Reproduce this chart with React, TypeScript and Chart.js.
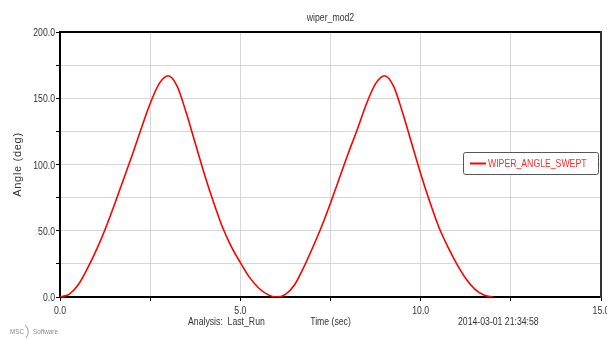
import React, { useEffect, useRef } from "react";
import { Chart, registerables } from "chart.js";

Chart.register(...registerables);

const TITLE = "wiper_mod2";
const SERIES_NAME = "WIPER_ANGLE_SWEPT";
const X_TITLE = "Time (sec)";
const Y_TITLE = "Angle (deg)";
const ANALYSIS = "Analysis:  Last_Run";
const STAMP = "2014-03-01 21:34:58";

const timeSec = [
  0, 0.25, 0.5, 0.75, 1, 1.25, 1.5, 1.75, 2, 2.25, 2.5, 2.75, 3,
  3.25, 3.5, 3.75, 4, 4.25, 4.5, 4.75, 5, 5.25, 5.5, 5.75, 6,
  6.25, 6.5, 6.75, 7, 7.25, 7.5, 7.75, 8, 8.25, 8.5, 8.75, 9,
  9.25, 9.5, 9.75, 10, 10.25, 10.5, 10.75, 11, 11.25, 11.5, 11.75, 12,
];
const angleDeg = [
  0, 2, 9, 21, 35, 51, 69, 88, 107, 127, 146, 161, 167,
  159, 139, 116, 93, 72, 53, 38, 26, 15, 7, 2, 0,
  2, 9, 22, 37, 53, 71, 90, 109, 127, 146, 161, 167,
  159, 139, 116, 93, 72, 53, 38, 25, 14, 6, 1.5, 0,
];

const X_MIN = 0;
const X_MAX = 15;
const X_STEP = 2.5;
const X_LABEL_EVERY = 5;
const Y_MIN = 0;
const Y_MAX = 200;
const Y_STEP = 25;
const Y_LABEL_EVERY = 50;

const NARROW = "'Liberation Sans', Arial, sans-serif";
const REGULAR = "'Liberation Sans', Arial, sans-serif";
const SX = 0.79;

function narrowText(ctx: any, text: string, x: number, y: number, align: string, color: string, size = 11) {
  ctx.save();
  ctx.translate(x, y);
  ctx.scale(SX, 1);
  ctx.font = `${size}px ${NARROW}`;
  ctx.fillStyle = color;
  ctx.textAlign = align;
  ctx.textBaseline = "middle";
  ctx.fillText(text, 0, 0);
  ctx.restore();
}

const isMultiple = (v: number, m: number) => Math.abs(v / m - Math.round(v / m)) < 1e-9;

const decorPlugin = {
  id: "decor",
  afterDraw(chart: any) {
    const { ctx, chartArea } = chart;
    const { left, right, top, bottom } = chartArea;
    const xs = chart.scales.x;
    const ys = chart.scales.y;
    ctx.save();
    // top and right frame
    ctx.strokeStyle = "#000";
    ctx.lineWidth = 2;
    ctx.beginPath();
    ctx.moveTo(left - 1, top);
    ctx.lineTo(right, top);
    ctx.stroke();
    ctx.strokeStyle = "#333";
    ctx.beginPath();
    ctx.moveTo(right, top - 1);
    ctx.lineTo(right, bottom + 1);
    ctx.stroke();
    ctx.restore();

    // tick labels
    xs.ticks.forEach((t: any) => {
      if (isMultiple(t.value, X_LABEL_EVERY)) {
        narrowText(ctx, t.value.toFixed(1), xs.getPixelForValue(t.value), 311, "center", "#333");
      }
    });
    ys.ticks.forEach((t: any) => {
      if (isMultiple(t.value, Y_LABEL_EVERY)) {
        narrowText(ctx, t.value.toFixed(1), 55, ys.getPixelForValue(t.value) + 1, "right", "#333");
      }
    });

    // titles
    narrowText(ctx, TITLE, (left + right) / 2, 18, "center", "#333");
    narrowText(ctx, X_TITLE, (left + right) / 2, 322, "center", "#333");
    narrowText(ctx, ANALYSIS, 188, 322, "left", "#333");
    narrowText(ctx, STAMP, 458, 322, "left", "#333");

    ctx.save();
    ctx.translate(18, (top + bottom) / 2);
    ctx.rotate(-Math.PI / 2);
    ctx.font = `11px ${REGULAR}`;
    try { (ctx as any).letterSpacing = "0.7px"; } catch (e) {}
    ctx.fillStyle = "#333";
    ctx.textAlign = "center";
    ctx.textBaseline = "middle";
    ctx.fillText(Y_TITLE, 0, 0);
    try { (ctx as any).letterSpacing = "0px"; } catch (e) {}
    ctx.restore();

    // MSC Software logo
    narrowText(ctx, "MSC", 10, 332, "left", "#8a8a8a", 8);
    narrowText(ctx, "Software", 33, 332, "left", "#8a8a8a", 8);
    ctx.save();
    ctx.strokeStyle = "#9a9a9a";
    ctx.lineWidth = 1;
    ctx.beginPath();
    ctx.moveTo(25, 325);
    ctx.quadraticCurveTo(31, 331, 26, 338);
    ctx.stroke();

    // legend box
    const bx = 463, by = 152, bw = 135, bh = 22;
    ctx.fillStyle = "#fff";
    ctx.strokeStyle = "#555";
    ctx.lineWidth = 1;
    ctx.beginPath();
    if ((ctx as any).roundRect) {
      (ctx as any).roundRect(bx + 0.5, by + 0.5, bw, bh, 2);
    } else {
      ctx.rect(bx + 0.5, by + 0.5, bw, bh);
    }
    ctx.fill();
    ctx.stroke();
    const ds = chart.data.datasets[0];
    ctx.strokeStyle = ds.borderColor;
    ctx.lineWidth = 2;
    ctx.beginPath();
    ctx.moveTo(470, by + 11.5);
    ctx.lineTo(486, by + 11.5);
    ctx.stroke();
    ctx.restore();
    narrowText(ctx, ds.label, 488, by + 12, "left", "#ff2a2a");
  },
};

export default function App() {
  const ref = useRef<HTMLCanvasElement | null>(null);
  useEffect(() => {
    if (!ref.current) return;
    const chart = new Chart(ref.current, {
      type: "line",
      data: {
        datasets: [
          {
            label: SERIES_NAME,
            data: timeSec.map((t, i) => ({ x: t, y: angleDeg[i] })),
            borderColor: "#ff0000",
            borderWidth: 1.6,
            pointRadius: 0,
            fill: false,
            cubicInterpolationMode: "monotone",
          },
        ],
      },
      options: {
        animation: false,
        responsive: false,
        devicePixelRatio: 1,
        layout: { padding: { left: 0, top: 32, right: 19, bottom: 0 } },
        plugins: {
          legend: { display: false },
          title: { display: false },
          tooltip: { enabled: false },
        },
        scales: {
          x: {
            type: "linear",
            min: X_MIN,
            max: X_MAX,
            afterFit(scale: any) {
              scale.height = 43;
              scale.paddingLeft = 0;
              scale.paddingRight = 0;
            },
            afterBuildTicks(scale: any) {
              const ticks = [];
              for (let v = X_MIN; v <= X_MAX + 1e-9; v += X_STEP) ticks.push({ value: v });
              scale.ticks = ticks;
            },
            ticks: { display: false, autoSkip: false },
            grid: { color: "#d6d6d6", lineWidth: 1, tickLength: 4, tickColor: "#000" },
            border: { display: true, color: "#000", width: 2 },
            title: { display: false },
          },
          y: {
            type: "linear",
            min: Y_MIN,
            max: Y_MAX,
            afterFit(scale: any) {
              scale.width = 60;
              scale.paddingTop = 0;
              scale.paddingBottom = 0;
            },
            afterBuildTicks(scale: any) {
              const ticks = [];
              for (let v = Y_MIN; v <= Y_MAX + 1e-9; v += Y_STEP) ticks.push({ value: v });
              scale.ticks = ticks;
            },
            ticks: { display: false, autoSkip: false },
            grid: { color: "#d6d6d6", lineWidth: 1, tickLength: 4, tickColor: "#000" },
            border: { display: true, color: "#000", width: 2 },
            title: { display: false },
          },
        },
      },
      plugins: [decorPlugin],
    } as any);
    return () => chart.destroy();
  }, []);

  return (
    <div style={{ position: "absolute", left: 0, top: 0, width: 607, height: 340, overflow: "hidden", background: "#fff" }}>
      <canvas ref={ref} width={620} height={340} style={{ display: "block", width: 620, height: 340 }} />
    </div>
  );
}
